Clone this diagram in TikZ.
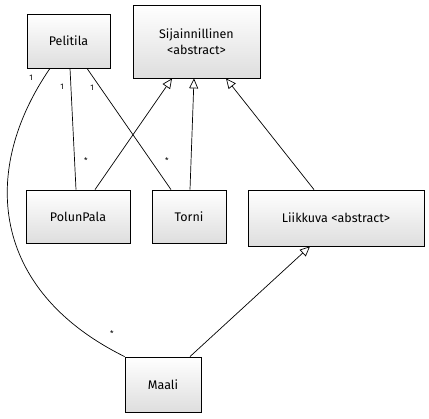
\documentclass[tikz,border=0pt]{standalone}
\usepackage{fontspec}
\setmainfont{Fira Sans}
\usetikzlibrary{arrows.meta,shadows}

\begin{document}
\begin{tikzpicture}[scale=0.03515]
        \tikzstyle{luokka}=[draw=black, line width=0.8pt, top color=white, bottom color=black!13,
          drop shadow={opacity=0.25, shadow xshift=1.5pt, shadow yshift=-1.5pt},
          inner sep=0pt, align=center, font=\fontsize{12.5}{16}\selectfont]
        \tikzstyle{perii}=[line width=0.7pt, -{Triangle[open, length=10pt, width=9pt, fill=white]}]
        \tikzstyle{viiva}=[line width=0.7pt]
        \tikzstyle{lkm}=[inner sep=0pt, font=\footnotesize]
        \useasboundingbox (0,0) rectangle (429,-418);
        % luokat
        \node [luokka, minimum width=83pt, minimum height=54pt] (pelitila) at (68.5,-41) {Pelitila};
        \node [luokka, minimum width=127pt, minimum height=73pt] (sijainnillinen) at (196.5,-41.5) {Sijainnillinen\\<abstract>};
        \node [luokka, minimum width=104pt, minimum height=53pt] (polunpala) at (78,-216.5) {PolunPala};
        \node [luokka, minimum width=74pt, minimum height=53pt] (torni) at (189,-216.5) {Torni};
        \node [luokka, minimum width=176pt, minimum height=56pt] (liikkuva) at (336,-218) {Liikkuva <abstract>};
        \node [luokka, minimum width=76pt, minimum height=55pt] (maali) at (163,-384.5) {Maali};
        % yhteydet
        \draw [viiva] (50,0 |- pelitila.south) .. controls (-20,-170) and (-10,-290) .. (maali.north west);
        \draw [viiva] (70,0 |- pelitila.south) -- (76,0 |- polunpala.north);
        \draw [viiva] (87,0 |- pelitila.south) -- (171,0 |- torni.north);
        \draw [perii] (95,0 |- polunpala.north) -- (172,0 |- sijainnillinen.south);
        \draw [perii] (190,0 |- torni.north) -- (194,0 |- sijainnillinen.south);
        \draw [perii] (314,0 |- liikkuva.north) -- (226,0 |- sijainnillinen.south);
        \draw [perii] (190,0 |- maali.north) -- (310,0 |- liikkuva.south);
        % kertoimet
        \node [lkm] (k1) at (31,-78) {1};
        \node [lkm] (k2) at (62,-87) {1};
        \node [lkm] (k3) at (92,-88) {1};
        \node [lkm] (k4) at (86,-161) {*};
        \node [lkm] (k5) at (167,-161) {*};
        \node [lkm] (k6) at (112,-334) {*};
    \end{tikzpicture}
\end{document}
